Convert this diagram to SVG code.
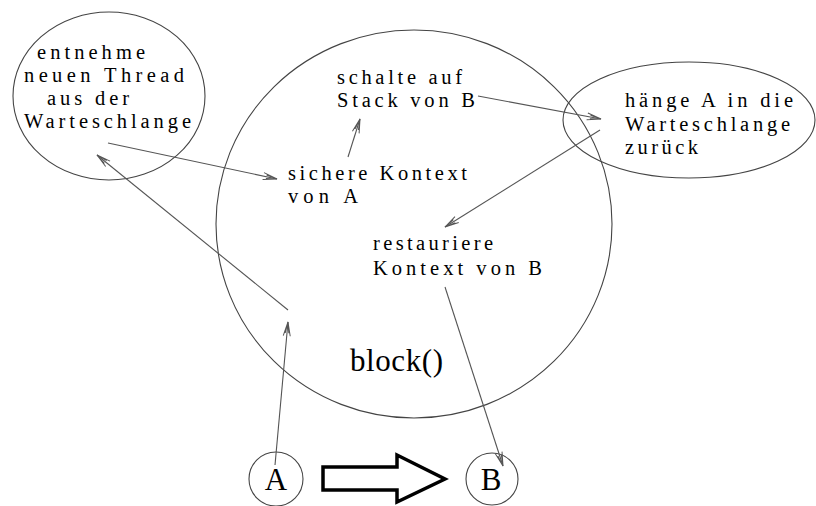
<svg xmlns="http://www.w3.org/2000/svg" width="816" height="506" viewBox="0 0 816 506">
  <style>
    .shape { fill: none; stroke: #444; stroke-width: 1.1; }
    .conn { fill: none; stroke: #555; stroke-width: 1.1; marker-end: url(#head); }
    text { font-family: "Liberation Serif", "Times New Roman", serif; fill: #000; }
    .lbl { font-size: 20.5px; }
    .big { font-size: 31px; }
    .letter { font-size: 31px; }
  </style>
  <defs>
    <marker id="head" markerUnits="userSpaceOnUse" markerWidth="20" markerHeight="12" refX="14" refY="5" orient="auto" overflow="visible">
      <path d="M0,1.5 L14,5 L0,8.5 M3,3.2 L14,5 L3,6.8" fill="none" stroke="#555" stroke-width="1"/>
    </marker>
  </defs>
  <rect width="816" height="506" fill="#fff"/>

  <g id="fetch-thread">
    <ellipse class="shape" cx="109" cy="96" rx="96" ry="84"/>
    <text class="lbl" x="37" y="58.5" textLength="108" lengthAdjust="spacing">entnehme</text>
    <text class="lbl" x="24" y="81.5" textLength="160" lengthAdjust="spacing">neuen Thread</text>
    <text class="lbl" x="47" y="104.5" textLength="82" lengthAdjust="spacing">aus der</text>
    <text class="lbl" x="24" y="127.5" textLength="167" lengthAdjust="spacing">Warteschlange</text>
  </g>

  <g id="block">
    <ellipse class="shape" cx="414" cy="224" rx="198" ry="194"/>
    <text class="big" x="350" y="371" textLength="93" lengthAdjust="spacing">block()</text>
  </g>

  <g id="switch-stack">
    <text class="lbl" x="337" y="84" textLength="125" lengthAdjust="spacing">schalte auf</text>
    <text class="lbl" x="337" y="107" textLength="138" lengthAdjust="spacing">Stack von B</text>
  </g>

  <g id="save-context">
    <text class="lbl" x="288" y="180" textLength="179" lengthAdjust="spacing">sichere Kontext</text>
    <text class="lbl" x="288" y="203" textLength="70" lengthAdjust="spacing">von A</text>
  </g>

  <g id="restore-context">
    <text class="lbl" x="373" y="250" textLength="120" lengthAdjust="spacing">restauriere</text>
    <text class="lbl" x="373" y="275" textLength="169" lengthAdjust="spacing">Kontext von B</text>
  </g>

  <g id="requeue">
    <ellipse class="shape" cx="689" cy="120" rx="126" ry="58"/>
    <text class="lbl" x="625" y="107" textLength="168" lengthAdjust="spacing">hänge A in die</text>
    <text class="lbl" x="625" y="131" textLength="165" lengthAdjust="spacing">Warteschlange</text>
    <text class="lbl" x="625" y="154" textLength="73" lengthAdjust="spacing">zurück</text>
  </g>

  <g id="thread-a">
    <circle class="shape" cx="276" cy="479" r="27"/>
    <text class="letter" x="276" y="490" text-anchor="middle">A</text>
  </g>

  <g id="thread-b">
    <circle class="shape" cx="492" cy="479" r="26"/>
    <text class="letter" x="491" y="490" text-anchor="middle">B</text>
  </g>

  <g id="transition">
    <polygon points="323,467 397,467 397,455 445,479 397,502 397,490 323,490" fill="#fff" stroke="#000" stroke-width="3.5" stroke-linejoin="miter"/>
  </g>

  <g id="connectors">
    <line class="conn" x1="275" y1="465" x2="288" y2="322"/>
    <line class="conn" x1="288" y1="310" x2="97" y2="155"/>
    <line class="conn" x1="108" y1="143" x2="277" y2="179"/>
    <line class="conn" x1="348" y1="157" x2="360" y2="119"/>
    <line class="conn" x1="478" y1="96" x2="601" y2="119"/>
    <line class="conn" x1="600" y1="130" x2="445" y2="227"/>
    <line class="conn" x1="445" y1="287" x2="503" y2="466"/>
  </g>
</svg>
